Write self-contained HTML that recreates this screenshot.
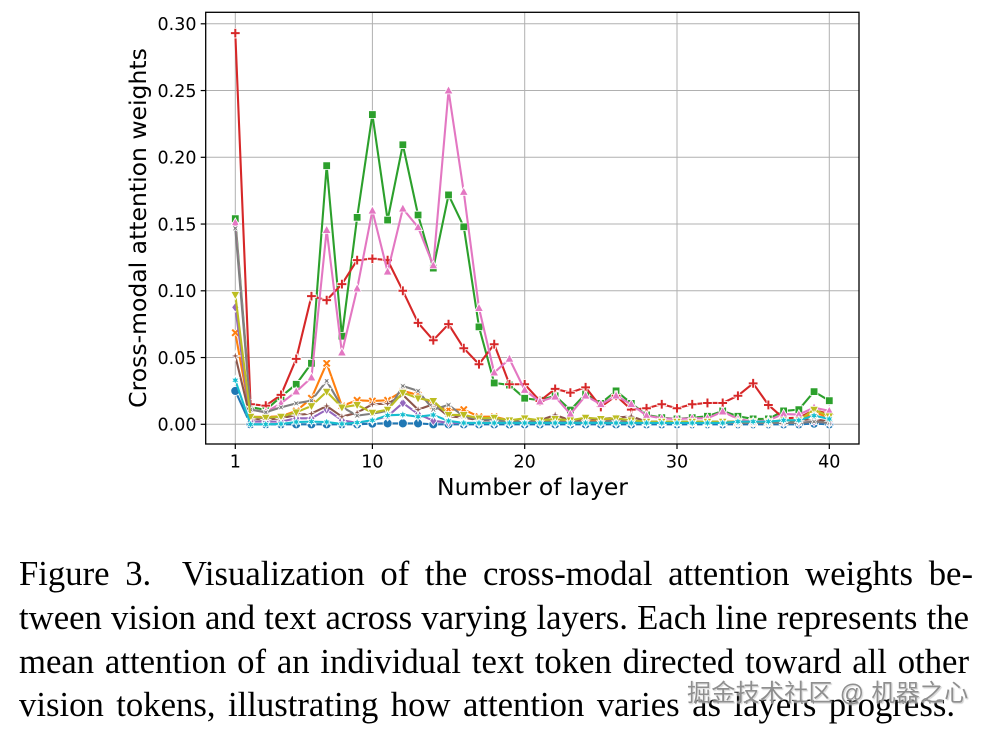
<!DOCTYPE html>
<html>
<head>
<meta charset="utf-8">
<style>
html,body{margin:0;padding:0;background:#fff;}
body{width:993px;height:732px;overflow:hidden;position:relative;}
svg{position:absolute;left:0;top:0;}
.tick{font-family:"DejaVu Sans","Liberation Sans",sans-serif;font-size:17.5px;fill:#000;}
.lab{font-family:"DejaVu Sans","Liberation Sans",sans-serif;font-size:23.5px;fill:#000;}
.cap{position:absolute;left:19px;font-family:"Liberation Serif","Times New Roman",serif;font-size:34.7px;line-height:34.7px;height:34.7px;color:#000;text-align:justify;text-align-last:justify;white-space:normal;overflow:visible;}
.wm{position:absolute;left:687px;top:680px;font-family:"Liberation Sans","Noto Sans CJK SC",sans-serif;font-size:24px;line-height:28px;color:#8f8f8f;white-space:nowrap;letter-spacing:0.3px;text-shadow:0 0 1px #fff,0 0 2px #fff,1px 1px 1px rgba(0,0,0,0.25);}
</style>
</head>
<body>
<svg id="chart" width="993" height="732" viewBox="0 0 993 732" xmlns="http://www.w3.org/2000/svg">
  <rect x="0" y="0" width="993" height="732" fill="#fff"/>
  <g stroke="#b0b0b0" stroke-width="1" fill="none">
    <line x1="235.3" y1="12.3" x2="235.3" y2="444"/>
    <line x1="372.4" y1="12.3" x2="372.4" y2="444"/>
    <line x1="524.7" y1="12.3" x2="524.7" y2="444"/>
    <line x1="677.0" y1="12.3" x2="677.0" y2="444"/>
    <line x1="829.3" y1="12.3" x2="829.3" y2="444"/>
    <line x1="205.7" y1="424.3" x2="859" y2="424.3"/>
    <line x1="205.7" y1="357.55" x2="859" y2="357.55"/>
    <line x1="205.7" y1="290.8" x2="859" y2="290.8"/>
    <line x1="205.7" y1="224.05" x2="859" y2="224.05"/>
    <line x1="205.7" y1="157.3" x2="859" y2="157.3"/>
    <line x1="205.7" y1="90.55" x2="859" y2="90.55"/>
    <line x1="205.7" y1="23.8" x2="859" y2="23.8"/>
  </g>
  <g id="series"></g>
  <rect x="205.7" y="12.3" width="653.3" height="431.7" fill="none" stroke="#000" stroke-width="1.3"/>
  <g stroke="#000" stroke-width="1.2">
    <line x1="200.7" y1="424.3" x2="205.7" y2="424.3"/>
    <line x1="200.7" y1="357.55" x2="205.7" y2="357.55"/>
    <line x1="200.7" y1="290.8" x2="205.7" y2="290.8"/>
    <line x1="200.7" y1="224.05" x2="205.7" y2="224.05"/>
    <line x1="200.7" y1="157.3" x2="205.7" y2="157.3"/>
    <line x1="200.7" y1="90.55" x2="205.7" y2="90.55"/>
    <line x1="200.7" y1="23.8" x2="205.7" y2="23.8"/>
    <line x1="235.3" y1="444" x2="235.3" y2="449"/>
    <line x1="372.4" y1="444" x2="372.4" y2="449"/>
    <line x1="524.7" y1="444" x2="524.7" y2="449"/>
    <line x1="677.0" y1="444" x2="677.0" y2="449"/>
    <line x1="829.3" y1="444" x2="829.3" y2="449"/>
  </g>
  <g class="tick" text-anchor="end">
    <text x="196.5" y="430.6">0.00</text>
    <text x="196.5" y="363.9">0.05</text>
    <text x="196.5" y="297.1">0.10</text>
    <text x="196.5" y="230.4">0.15</text>
    <text x="196.5" y="163.6">0.20</text>
    <text x="196.5" y="96.9">0.25</text>
    <text x="196.5" y="30.1">0.30</text>
  </g>
  <g class="tick" text-anchor="middle">
    <text x="235.3" y="467.5">1</text>
    <text x="372.4" y="467.5">10</text>
    <text x="524.7" y="467.5">20</text>
    <text x="677.0" y="467.5">30</text>
    <text x="829.3" y="467.5">40</text>
  </g>
  <text class="lab" x="532.5" y="495" text-anchor="middle">Number of layer</text>
  <text class="lab" transform="translate(146,228) rotate(-90)" x="0" y="0" text-anchor="middle">Cross-modal attention weights</text>
</svg>

<div class="cap" style="top:557px;width:954px;">Figure 3.&nbsp; Visualization of the cross-modal attention weights be-</div>
<div class="cap" style="top:601px;width:950px;">tween vision and text across varying layers. Each line represents the</div>
<div class="cap" style="top:645px;width:950px;">mean attention of an individual text token directed toward all other</div>
<div class="cap" style="top:688px;width:936px;">vision tokens, illustrating how attention varies as layers progress.</div>
<div class="wm">掘金技术社区 @ 机器之心</div>

<script>
(function(){
  var NS="http://www.w3.org/2000/svg";
  function X(L){return 235.3+(L-1)*15.2308;}
  function Y(v){return 424.3-v*1335;}
  var z40=function(a){while(a.length<40)a.push(0);return a;};
  var S=[
   {c:"#1f77b4",m:"o",d:z40([0.025,0,0,0,0,0,0,0,0,0.0005,0.0007,0.0007,0.0007,0,0,0,0,0,0,0,0,0,0,0,0,0,0,0,0,0,0,0,0,0,0,0,0,0,0.0005,0])},
   {c:"#ff7f0e",m:"X",d:[0.0686,0.0057,0.0055,0.006,0.010,0.0195,0.0457,0.0137,0.018,0.0175,0.018,0.025,0.022,0.014,0.011,0.011,0.0057,0.0057,0.003,0.003,0.003,0.003,0.002,0.003,0.003,0.004,0.003,0.002,0.002,0.002,0.001,0.001,0.002,0.001,0.001,0.001,0.002,0.003,0.009,0.005]},
   {c:"#2ca02c",m:"s",d:[0.154,0.013,0.0107,0.0207,0.030,0.0457,0.1937,0.066,0.155,0.232,0.153,0.2094,0.1568,0.117,0.1718,0.148,0.073,0.031,0.0294,0.0195,0.018,0.0214,0.0107,0.0227,0.0157,0.025,0.0157,0.007,0.005,0.004,0.005,0.006,0.010,0.006,0.004,0.004,0.010,0.011,0.0245,0.0177]},
   {c:"#d62728",m:"P",d:[0.293,0.015,0.014,0.022,0.049,0.096,0.093,0.105,0.123,0.124,0.123,0.100,0.076,0.063,0.075,0.057,0.045,0.060,0.030,0.030,0.0175,0.0265,0.0237,0.0277,0.013,0.0214,0.011,0.012,0.015,0.012,0.015,0.016,0.016,0.0214,0.0307,0.0145,0.0045,0.005,0.0107,0.0077]},
   {c:"#9467bd",m:"D",d:[0.0876,0.002,0.002,0.002,0.0045,0.0045,0.011,0.003,0.001,0.003,0.006,0.016,0.0077,0.0027,0.001,0.001,0.001,0.001,0.001,0.001,0.001,0.001,0.001,0.001,0.001,0.001,0.001,0.001,0.001,0.001,0.001,0.001,0.001,0.001,0.001,0.001,0.001,0.001,0.002,0.001]},
   {c:"#8c564b",m:"star4",d:[0.0512,0.004,0.0035,0.0045,0.007,0.008,0.0137,0.0057,0.0087,0.015,0.0155,0.022,0.011,0.015,0.006,0.005,0.003,0.003,0.003,0.003,0.003,0.007,0.003,0.004,0.004,0.005,0.006,0.002,0.002,0.002,0.002,0.002,0.002,0.002,0.002,0.002,0.002,0.003,0.004,0.002]},
   {c:"#e377c2",m:"^",d:[0.151,0.011,0.009,0.0157,0.0245,0.035,0.1455,0.0537,0.1016,0.160,0.1143,0.1615,0.1476,0.119,0.250,0.174,0.087,0.0387,0.049,0.0257,0.017,0.0207,0.0077,0.0214,0.015,0.0214,0.015,0.0065,0.0045,0.004,0.0045,0.0045,0.0095,0.004,0.002,0.003,0.0077,0.0073,0.0125,0.010]},
   {c:"#7f7f7f",m:"star4x",d:[0.1468,0.011,0.009,0.0127,0.0157,0.0177,0.0325,0.013,0.0065,0.008,0.010,0.0287,0.025,0.011,0.0145,0.006,0.004,0.003,0.002,0.002,0.002,0.002,0.002,0.002,0.002,0.003,0.002,0.001,0.001,0.001,0.001,0.001,0.001,0.001,0.001,0.001,0.001,0.001,0.002,0.001]},
   {c:"#bcbd22",m:"v",d:[0.097,0.0057,0.005,0.0057,0.009,0.0137,0.0245,0.0127,0.0145,0.0087,0.011,0.0237,0.0195,0.0175,0.007,0.007,0.0045,0.005,0.003,0.0045,0.003,0.004,0.003,0.005,0.004,0.0045,0.003,0.002,0.002,0.002,0.002,0.002,0.002,0.002,0.002,0.002,0.003,0.003,0.011,0.006]},
   {c:"#17becf",m:"star6",d:[0.033,0,0,0.0003,0.0017,0.002,0.0017,0.0003,0.0013,0.003,0.0067,0.0072,0.0057,0.007,0.0025,0.001,0.001,0.001,0.001,0.001,0.001,0.001,0.001,0.001,0.001,0.001,0.001,0.001,0.001,0.001,0.001,0.001,0.001,0.002,0.002,0.002,0.003,0.003,0.0065,0.004]}
  ];
  function star(n,ro,ri,rot){
    var p=[];
    for(var i=0;i<2*n;i++){
      var r=(i%2==0)?ro:ri;
      var a=(rot+i*180/n-90)*Math.PI/180;
      p.push((r*Math.cos(a)).toFixed(2)+","+(r*Math.sin(a)).toFixed(2));
    }
    return p.join(" ");
  }
  function poly(pts){return pts.map(function(q){return q[0]+","+q[1];}).join(" ");}
  var shapes={
    "s":poly([[-3.8,-3.8],[3.8,-3.8],[3.8,3.8],[-3.8,3.8]]),
    "D":poly([[0,-4.8],[3.6,0],[0,4.8],[-3.6,0]]),
    "^":poly([[0,-4.8],[4.4,3.3],[-4.4,3.3]]),
    "v":poly([[0,4.8],[4.4,-3.3],[-4.4,-3.3]]),
    "P":poly([[-1.4,-4.8],[1.4,-4.8],[1.4,-1.4],[4.8,-1.4],[4.8,1.4],[1.4,1.4],[1.4,4.8],[-1.4,4.8],[-1.4,1.4],[-4.8,1.4],[-4.8,-1.4],[-1.4,-1.4]]),
    "X":null,
    "star4":star(4,5.0,1.5,0),
    "star4x":star(4,5.0,1.5,45),
    "star6":star(6,4.6,2.1,0)
  };
  (function(){
    var base=[[-1.4,-4.8],[1.4,-4.8],[1.4,-1.4],[4.8,-1.4],[4.8,1.4],[1.4,1.4],[1.4,4.8],[-1.4,4.8],[-1.4,1.4],[-4.8,1.4],[-4.8,-1.4],[-1.4,-1.4]];
    var c=Math.cos(Math.PI/4),s=Math.sin(Math.PI/4);
    shapes["X"]=poly(base.map(function(q){return [(q[0]*c-q[1]*s).toFixed(2),(q[0]*s+q[1]*c).toFixed(2)];}));
  })();
  var g=document.getElementById("series");
  S.forEach(function(se){
    var grp=document.createElementNS(NS,"g");
    var pts=se.d.map(function(v,i){return X(i+1).toFixed(2)+","+Y(v).toFixed(2);}).join(" ");
    var pl=document.createElementNS(NS,"polyline");
    pl.setAttribute("points",pts);
    pl.setAttribute("fill","none");
    pl.setAttribute("stroke",se.c);
    pl.setAttribute("stroke-width","2.1");
    pl.setAttribute("stroke-linejoin","round");
    grp.appendChild(pl);
    se.d.forEach(function(v,i){
      var x=X(i+1),y=Y(v),el;
      if(se.m==="o"){
        el=document.createElementNS(NS,"circle");
        el.setAttribute("cx",x.toFixed(2));el.setAttribute("cy",y.toFixed(2));el.setAttribute("r","4.5");
      } else {
        el=document.createElementNS(NS,"polygon");
        el.setAttribute("points",shapes[se.m]);
        el.setAttribute("transform","translate("+x.toFixed(2)+","+y.toFixed(2)+")");
      }
      el.setAttribute("fill",se.c);
      el.setAttribute("stroke","#fff");
      el.setAttribute("stroke-width","0.8");
      grp.appendChild(el);
    });
    g.appendChild(grp);
  });
})();
</script>
</body>
</html>
